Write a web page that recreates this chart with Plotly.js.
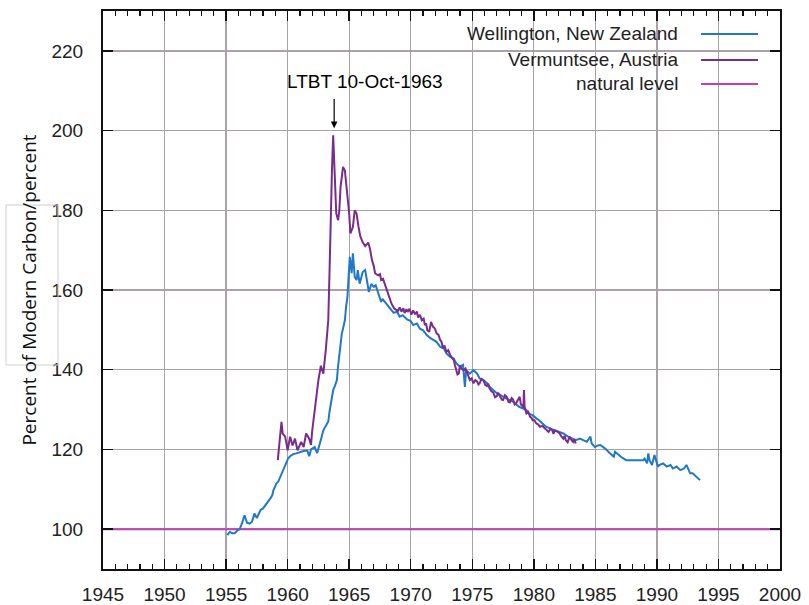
<!DOCTYPE html>
<html>
<head>
<meta charset="utf-8">
<script src="https://cdn.plot.ly/plotly-3.0.1.min.js"></script>
<style>
  html, body { margin: 0; padding: 0; background: #fff; }
  #chart { width: 809px; height: 605px; }
</style>
</head>
<body>
<div id="chart"></div>
<script>
// Radiocarbon in the atmosphere (percent of modern carbon)
var wellingtonYear = [
  1955.1, 1955.3, 1955.5, 1955.7, 1955.9, 1956.1, 1956.3, 1956.5, 1956.7, 1956.9,
  1957.1, 1957.3, 1957.5, 1957.7, 1957.8, 1958.0, 1958.2, 1958.35, 1958.5, 1958.6,
  1958.75, 1958.85, 1959.0, 1959.1, 1959.25, 1959.4, 1959.5, 1959.6, 1959.75, 1959.9,
  1960.05, 1960.2, 1960.45, 1960.7, 1961.0, 1961.3, 1961.6, 1961.75, 1961.9, 1962.0,
  1962.2, 1962.4, 1962.6, 1962.75, 1962.9, 1963.05, 1963.2, 1963.3, 1963.4, 1963.55,
  1963.7, 1963.85, 1964.0, 1964.1, 1964.25, 1964.4, 1964.55, 1964.65, 1964.75, 1964.85,
  1964.92, 1965.05, 1965.2, 1965.3, 1965.45, 1965.6, 1965.7, 1965.85, 1966.0, 1966.1,
  1966.3, 1966.45, 1966.6, 1966.8, 1967.0, 1967.15, 1967.4, 1967.6, 1967.7, 1967.9,
  1968.0, 1968.3, 1968.6, 1968.9, 1969.1, 1969.35, 1969.7, 1970.0, 1970.2, 1970.5,
  1970.75, 1971.0, 1971.3, 1971.6, 1971.9, 1972.1, 1972.4, 1972.7, 1972.9, 1973.2,
  1973.5, 1973.7, 1974.0, 1974.25, 1974.4, 1974.5, 1974.8, 1975.1, 1975.4, 1975.6,
  1975.9, 1976.2, 1976.4, 1976.7, 1977.0, 1977.25, 1977.5, 1977.8, 1978.0, 1978.3,
  1978.6, 1978.8, 1979.1, 1979.4, 1979.6, 1979.9, 1980.2, 1980.4, 1980.7, 1981.0,
  1981.35, 1981.7, 1982.05, 1982.4, 1982.75, 1983.1, 1983.4, 1983.75, 1984.0, 1984.3,
  1984.6, 1984.7, 1984.97, 1985.2, 1985.4, 1985.8, 1986.2, 1986.5, 1986.6, 1986.9,
  1987.1, 1987.5, 1988.1, 1988.6, 1988.9, 1989.0, 1989.2, 1989.3, 1989.4, 1989.6,
  1989.7, 1989.8, 1990.0, 1990.1, 1990.2, 1990.5, 1990.8, 1991.1, 1991.3, 1991.6,
  1991.9, 1992.2, 1992.4, 1992.7, 1992.9, 1993.2, 1993.5
];
var wellingtonPmc = [
  98.5, 99.3, 99.0, 99.0, 99.6, 100.0, 101.5, 103.5, 101.6, 101.4,
  101.8, 103.9, 102.8, 104.0, 104.8, 105.2, 106.0, 106.4, 107.2, 107.7,
  108.5, 109.8, 110.8, 111.5, 112.0, 113.1, 114.0, 114.8, 116.0, 116.9,
  117.8, 118.3, 118.8, 119.0, 119.4, 119.6, 119.7, 118.3, 120.0, 120.2,
  120.6, 119.1, 121.1, 123.0, 124.8, 125.5, 126.5, 127.0, 129.4, 132.4,
  134.9, 136.0, 137.4, 141.0, 145.7, 149.0, 151.0, 152.4, 155.8, 158.0,
  161.6, 168.3, 164.2, 169.2, 163.3, 162.5, 165.0, 161.6, 163.3, 164.5,
  165.0, 162.5, 159.5, 161.5, 160.8, 161.2, 158.5, 157.0, 157.8, 157.0,
  156.5, 155.6, 154.3, 154.5, 153.3, 153.7, 152.6, 152.2, 151.2, 151.6,
  150.3, 149.9, 148.7, 147.9, 147.4, 147.0, 145.7, 145.3, 144.1, 143.2,
  142.8, 141.6, 140.8, 141.2, 135.7, 139.9, 139.0, 139.9, 139.0, 137.8,
  137.4, 136.6, 135.7, 134.9, 134.1, 133.7, 133.2, 132.8, 132.4, 132.0,
  131.1, 130.7, 130.3, 129.9, 129.0, 128.6, 127.8, 127.4, 126.5, 125.7,
  125.2, 124.8, 124.3, 124.0, 123.3, 122.7, 122.3, 122.7, 122.3, 121.9,
  123.2, 121.5, 120.6, 121.0, 121.1, 120.2, 119.0, 118.2, 119.4, 118.6,
  118.1, 117.3, 117.3, 117.3, 117.3, 117.7, 116.5, 119.0, 117.3, 116.1,
  117.7, 118.6, 116.5, 115.7, 116.1, 116.5, 115.7, 116.1, 115.2, 115.7,
  114.8, 115.2, 116.1, 114.0, 114.0, 113.1, 112.3
];

var vermuntseeYear = [
  1959.2, 1959.4, 1959.5, 1959.6, 1959.8, 1960.0, 1960.2, 1960.4, 1960.6, 1960.8,
  1961.1, 1961.3, 1961.5, 1961.75, 1961.9, 1962.0, 1962.3, 1962.5, 1962.7, 1962.9,
  1963.1, 1963.3, 1963.4, 1963.5, 1963.6, 1963.7, 1963.8, 1963.85, 1963.95, 1964.1,
  1964.2, 1964.3, 1964.5, 1964.65, 1964.8, 1965.0, 1965.1, 1965.3, 1965.45, 1965.6,
  1965.75, 1965.9, 1966.1, 1966.3, 1966.55, 1966.7, 1966.85, 1967.0, 1967.1, 1967.35,
  1967.5, 1967.6, 1967.75, 1968.0, 1968.3, 1968.45, 1968.65, 1968.95, 1969.1, 1969.25,
  1969.4, 1969.5, 1969.65, 1969.75, 1969.9, 1970.05, 1970.2, 1970.35, 1970.5, 1970.6,
  1970.75, 1970.9, 1971.05, 1971.15, 1971.25, 1971.35, 1971.5, 1971.65, 1971.8, 1971.95,
  1972.1, 1972.25, 1972.4, 1972.5, 1972.6, 1972.75, 1972.9, 1973.05, 1973.2, 1973.35,
  1973.5, 1973.6, 1973.7, 1973.8, 1973.9, 1974.0, 1974.15, 1974.3, 1974.45, 1974.6,
  1974.7, 1974.8, 1974.95, 1975.1, 1975.25, 1975.4, 1975.5, 1975.6, 1975.75, 1975.9,
  1976.05, 1976.2, 1976.3, 1976.4, 1976.55, 1976.7, 1976.85, 1977.0, 1977.1, 1977.25,
  1977.4, 1977.5, 1977.65, 1977.8, 1977.95, 1978.05, 1978.2, 1978.3, 1978.45, 1978.55,
  1978.7, 1978.85, 1978.95, 1979.05, 1979.15, 1979.2, 1979.25, 1979.4, 1979.55, 1979.7,
  1979.8, 1979.9, 1980.05, 1980.2, 1980.35, 1980.5, 1980.7, 1980.9, 1981.05, 1981.2,
  1981.35, 1981.5, 1981.6, 1981.7, 1981.9, 1982.1, 1982.25, 1982.4, 1982.5, 1982.6,
  1982.75, 1982.9, 1983.05, 1983.2, 1983.3, 1983.4
];
var vermuntseePmc = [
  117.3, 123.2, 126.9, 124.0, 123.2, 119.8, 123.2, 121.0, 122.7, 119.8,
  121.9, 120.6, 124.0, 122.7, 121.1, 124.8, 133.2, 137.4, 141.0, 139.0,
  145.0, 152.4, 164.2, 181.0, 190.0, 198.8, 191.7, 185.0, 179.2, 177.5,
  180.0, 185.9, 190.9, 190.0, 185.9, 179.2, 174.2, 175.8, 180.0, 179.2,
  176.0, 173.5, 172.0, 171.0, 171.9, 170.2, 167.5, 166.0, 164.2, 163.7,
  164.0, 162.5, 162.8, 160.4, 157.6, 156.5, 155.4, 154.7, 155.6, 154.6,
  155.4, 154.2, 155.2, 154.5, 155.3, 153.8, 154.9, 153.9, 154.6, 153.1,
  153.8, 152.4, 152.8, 151.2, 151.6, 149.9, 149.5, 152.0, 150.8, 150.4,
  149.1, 148.8, 147.4, 147.0, 145.7, 145.9, 144.5, 144.9, 143.7, 143.0,
  142.4, 141.0, 139.9, 138.8, 139.0, 141.0, 140.2, 139.9, 140.3, 139.0,
  138.0, 137.4, 137.8, 136.6, 137.4, 137.0, 136.3, 136.6, 137.7, 137.4,
  136.2, 135.9, 136.5, 135.3, 134.6, 134.3, 133.1, 133.4, 134.2, 133.5,
  132.5, 132.4, 133.6, 133.2, 131.9, 131.8, 132.9, 132.6, 131.3, 131.5,
  132.4, 133.2, 131.3, 131.0, 130.4, 134.9, 130.7, 129.0, 129.4, 128.2,
  128.0, 127.3, 127.3, 126.5, 126.3, 125.7, 125.9, 125.3, 124.6, 124.4,
  125.2, 124.8, 123.9, 124.8, 124.5, 124.0, 123.2, 122.7, 123.4, 122.3,
  121.8, 123.2, 122.4, 121.9, 122.6, 121.5
];

var naturalYear = [1945, 2000];
var naturalPmc = [100, 100];

var seriesNames = ['Wellington, New Zealand', 'Vermuntsee, Austria', 'natural level'];
var seriesColors = ['#1f78c8', '#7a2c8c', '#bf3fb9'];
var treatyYear = 1963.78;       // 10 October 1963
var treatyLabel = 'LTBT 10-Oct-1963';
var yTitle = 'Percent of Modern Carbon/percent';

var textFamily = 'Liberation Sans, Arial, sans-serif';
var tickFont = { family: textFamily, size: 19, color: '#222' };

var traces = [
  { x: naturalYear, y: naturalPmc, mode: 'lines', name: seriesNames[2],
    line: { color: seriesColors[2], width: 2 }, hoverinfo: 'skip' },
  { x: wellingtonYear, y: wellingtonPmc, mode: 'lines', name: seriesNames[0],
    line: { color: seriesColors[0], width: 2 } },
  { x: vermuntseeYear, y: vermuntseePmc, mode: 'lines', name: seriesNames[1],
    line: { color: seriesColors[1], width: 2 } }
];

// key drawn in the upper right: right-aligned names, line samples after them
var keyTextX = 0.8523, keyLineX0 = 0.8833, keyLineX1 = 0.9675;
var keyRows = [0.9588, 0.9122, 0.8692];
var keyOrder = [0, 1, 2];

var shapes = [
  // opaque key background
  { type: 'rect', xref: 'paper', yref: 'paper', x0: 0.525, x1: 0.997, y0: 0.848, y1: 0.998,
    fillcolor: '#fff', line: { width: 0 }, layer: 'between' },
  // frame around the y title
  { type: 'rect', xref: 'paper', yref: 'paper', x0: -0.1433, x1: -0.0665, y0: 0.3656, y1: 0.6523,
    fillcolor: 'rgba(0,0,0,0)', line: { color: '#cfcfcf', width: 1 } }
];
var annotations = [
  { xref: 'x', yref: 'y', x: 1966.28, y: 212.4, text: treatyLabel, showarrow: false,
    font: { family: textFamily, size: 19, color: '#000' } },
  { xref: 'x', yref: 'y', x: treatyYear, y: 200.6, axref: 'x', ayref: 'y', ax: treatyYear, ay: 208.3,
    text: '', showarrow: true, arrowhead: 2, arrowsize: 1.1, arrowwidth: 1.2, arrowcolor: '#000' }
];
keyOrder.forEach(function (k, i) {
  annotations.push({ xref: 'paper', yref: 'paper', x: keyTextX, y: keyRows[i], xanchor: 'right',
    yanchor: 'middle', text: seriesNames[k], showarrow: false,
    font: { family: textFamily, size: 19, color: '#222' } });
  shapes.push({ type: 'line', xref: 'paper', yref: 'paper', x0: keyLineX0, x1: keyLineX1,
    y0: keyRows[i], y1: keyRows[i], line: { color: seriesColors[k], width: 2 } });
});

var layout = {
  width: 809, height: 605,
  margin: { l: 103, r: 29, t: 11, b: 36 },
  paper_bgcolor: '#fff', plot_bgcolor: '#fff',
  showlegend: false,
  xaxis: {
    range: [1945, 2000], tick0: 1945, dtick: 5, tickmode: 'linear',
    ticks: 'inside', ticklen: 10, tickwidth: 1.5, tickcolor: '#111',
    minor: { dtick: 1, ticks: 'inside', ticklen: 5, tickwidth: 1.2, tickcolor: '#111', showgrid: false },
    showgrid: true, gridcolor: '#a9a3a9', gridwidth: 1.3,
    showline: true, linecolor: '#111', linewidth: 2, mirror: 'allticks',
    zeroline: false, tickfont: tickFont, ticklabelstandoff: 7
  },
  yaxis: {
    range: [90, 230], tick0: 100, dtick: 20, tickmode: 'linear',
    ticks: 'inside', ticklen: 10, tickwidth: 1.5, tickcolor: '#111',
    showgrid: true, gridcolor: '#a9a3a9', gridwidth: 1.3,
    showline: true, linecolor: '#111', linewidth: 2, mirror: 'allticks',
    zeroline: false, tickfont: tickFont, ticklabelstandoff: 14,
    title: { text: yTitle, standoff: 10,
      font: { family: 'Open Sans, Noto Sans, sans-serif', size: 19, color: '#111' } }
  },
  shapes: shapes,
  annotations: annotations
};

Plotly.newPlot('chart', traces, layout, { displayModeBar: false, staticPlot: true });
</script>
</body>
</html>
